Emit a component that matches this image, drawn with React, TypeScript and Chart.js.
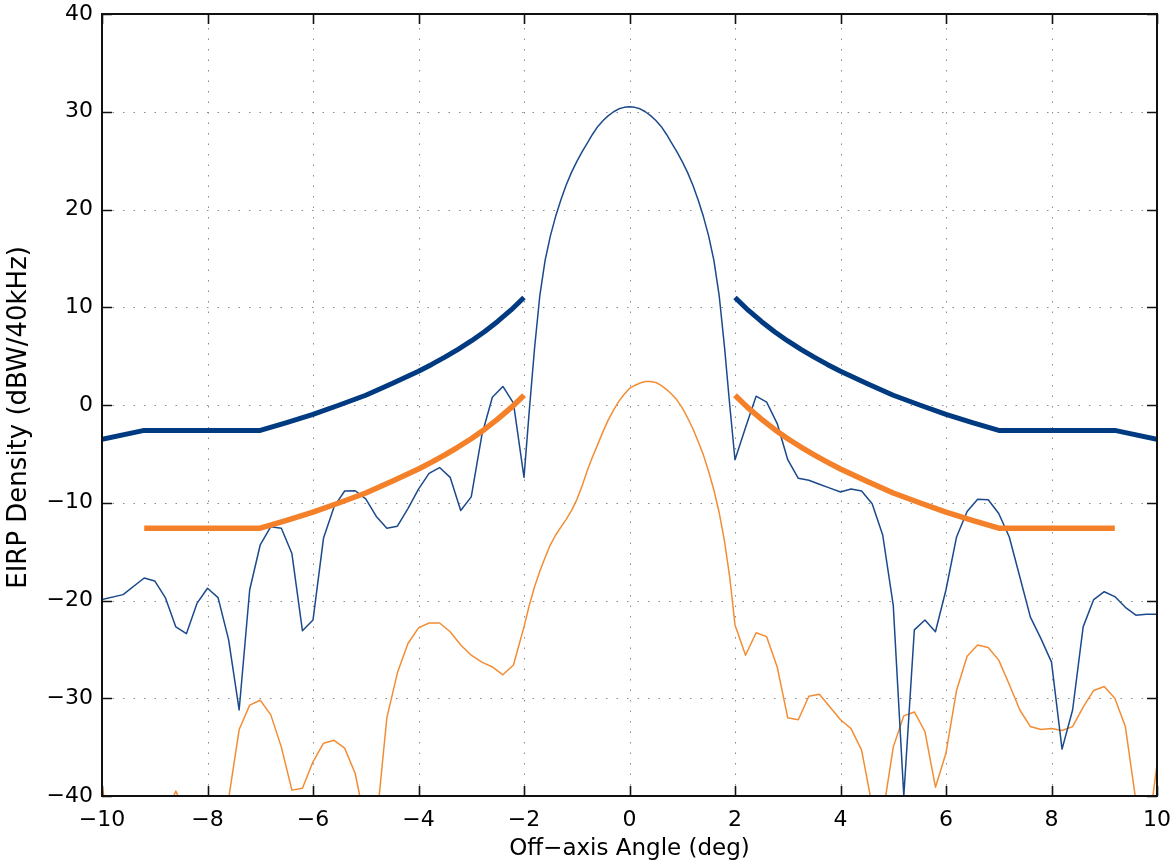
import { useEffect, useRef } from 'react';
import { Chart, registerables } from 'chart.js';

Chart.register(...registerables);

const FONT = '"DejaVu Sans", "Liberation Sans", sans-serif';

// Axis ticks
const xTickValues = [-10, -8, -6, -4, -2, 0, 2, 4, 6, 8, 10];
const yTickValues = [-40, -30, -20, -10, 0, 10, 20, 30, 40];

// Measured pattern (upper, dark blue thin line)
const upperPatternAngle = [
  -10, -9.6, -9.2, -9.0, -8.8, -8.6, -8.4, -8.2, -8.0, -7.8, -7.6, -7.4, -7.2, -7.0, -6.8, -6.6, -6.4, -6.2, -6.0,
  -5.8, -5.6, -5.4, -5.2, -5.0, -4.8, -4.6, -4.4, -4.2, -4.0, -3.8, -3.6, -3.4, -3.2, -3.0, -2.8, -2.6, -2.4, -2.2,
  -2.0, -1.9, -1.8, -1.7, -1.6, -1.5, -1.4, -1.3, -1.2, -1.1, -1.0, -0.9, -0.8, -0.7, -0.6, -0.5, -0.4, -0.3, -0.2,
  -0.1, 0.0, 0.1, 0.2, 0.3, 0.4, 0.5, 0.6, 0.7, 0.8, 0.9, 1.0, 1.1, 1.2, 1.3, 1.4, 1.5, 1.6, 1.7, 1.8, 1.9, 2.0,
  2.2, 2.4, 2.6, 2.8, 3.0, 3.2, 3.4, 3.6, 3.8, 4.0, 4.2, 4.4, 4.6, 4.8, 5.0,
  5.2, 5.4, 5.6, 5.8, 6.0, 6.2, 6.4, 6.6, 6.8, 7.0, 7.2, 7.4, 7.6, 7.8, 8.0, 8.2, 8.4, 8.6, 8.8, 9.0, 9.2, 9.4, 9.6,
  9.8, 10.0,
];
const upperPatternEirp = [
  -19.9, -19.4, -17.7, -18.0, -19.7, -22.7, -23.4, -20.3, -18.75, -19.7, -24.0, -31.2, -18.9, -14.3, -12.45, -12.6,
  -15.2, -23.1, -22.0, -13.6, -10.4, -8.8, -8.77, -9.6, -11.4, -12.6, -12.4, -10.6, -8.6, -7.0, -6.4, -7.4, -10.8,
  -9.4, -3.1, 0.8, 1.9, 0.2, -7.4, -0.6, 5.8, 11.2, 14.8, 17.3, 19.3, 21.0, 22.5, 23.8, 24.9, 25.9, 26.8, 27.7, 28.5,
  29.1, 29.6, 30.0, 30.3, 30.45, 30.5, 30.45, 30.3, 30.0, 29.6, 29.1, 28.5, 27.7, 26.8, 25.9, 24.9, 23.8, 22.5, 21.0,
  19.3, 17.3, 14.8, 11.2, 6.0, 0.0, -5.6,
  -2.3, 0.9, 0.3, -1.9, -5.6, -7.5, -7.7, -8.1, -8.5, -8.9, -8.6, -8.8, -10.1, -13.3, -20.5,
  -40.0, -23.0, -22.0, -23.2, -18.9, -13.5, -10.9, -9.65, -9.7,
  -11.1, -13.5, -17.6, -21.7, -23.9, -26.3, -35.2, -31.2, -22.7, -19.9, -19.1, -19.6, -20.7, -21.5, -21.4, -21.4,
];

// Measured pattern (lower, orange thin line)
const lowerPatternAngle = [
  -10, -9.9, -8.8, -8.6, -8.4, -7.8, -7.6, -7.4, -7.2, -7.0, -6.8, -6.6, -6.4, -6.2, -6.0, -5.8, -5.6, -5.4, -5.2,
  -5.0, -4.8, -4.6, -4.4, -4.2, -4.0, -3.8, -3.6, -3.4, -3.2, -3.0, -2.8, -2.6, -2.4, -2.2, -2.0, -1.9, -1.8, -1.7,
  -1.6, -1.5, -1.4, -1.3, -1.2, -1.1, -1.0, -0.9, -0.8, -0.7, -0.6, -0.5, -0.4, -0.3, -0.2, -0.1, 0.0, 0.1, 0.2, 0.3,
  0.4, 0.5, 0.6, 0.7, 0.8, 0.9, 1.0, 1.1, 1.2, 1.3, 1.4, 1.5, 1.6, 1.7, 1.8, 1.9, 2.0, 2.2, 2.4, 2.6, 2.8,
  3.0, 3.2, 3.4, 3.6, 3.8, 4.0, 4.2, 4.4, 4.6, 4.8, 5.0, 5.2, 5.4, 5.6, 5.8, 6.0, 6.2, 6.4, 6.6, 6.8, 7.0, 7.2, 7.4,
  7.6, 7.8, 8.0, 8.2, 8.4, 8.6, 8.8, 9.0, 9.2, 9.4, 9.6, 9.8, 10.0,
];
const lowerPatternEirp = [
  -39.0, -42.0, -42.0, -39.5, -42.0, -46.0, -40.3, -33.2, -30.7, -30.2, -31.7, -35.0, -39.4, -39.2, -36.5, -34.6,
  -34.3, -35.1, -37.7, -43.0, -43.0, -32.0, -27.4, -24.4, -22.8, -22.3, -22.3, -23.2, -24.55, -25.6, -26.3, -26.8,
  -27.6, -26.6, -22.7, -20.5, -18.6, -17.0, -15.6, -14.3, -13.3, -12.5, -11.7, -10.8, -9.7, -8.3, -6.7, -5.3, -4.0,
  -2.7, -1.5, -0.5, 0.4, 1.1, 1.7, 2.0, 2.25, 2.4, 2.4, 2.3, 2.0, 1.6, 1.1, 0.5, -0.3, -1.3, -2.4, -3.7, -5.1, -6.8,
  -8.7, -11.0, -13.9, -17.6, -22.5, -25.6, -23.3, -23.7, -26.8,
  -32.0, -32.2, -29.8, -29.6, -30.9, -32.2, -33.1,
  -35.3, -41.0, -42.0, -35.0, -31.8, -31.4, -33.4, -39.1, -35.6, -29.2, -25.7, -24.55, -24.8, -26.1, -28.6, -31.2,
  -32.9, -33.2, -33.1, -33.3, -32.9, -30.9, -29.2, -28.8, -30.0, -32.9, -40.5, -45.0, -36.8,
];

// Limit masks (thick lines)
const upperMaskAngleLeft = [-10, -9.2, -7, -6.5, -6, -5.5, -5, -4.5, -4, -3.75, -3.5, -3.25, -3, -2.75, -2.5, -2.25, -2];
const upperMaskLeft = [-3.5, -2.6, -2.6, -1.8, -0.95, 0.0, 1.0, 2.2, 3.45, 4.15, 4.9, 5.7, 6.55, 7.5, 8.55, 9.7, 11.0];
const upperMaskAngleRight = [2, 2.25, 2.5, 2.75, 3, 3.25, 3.5, 3.75, 4, 4.5, 5, 5.5, 6, 6.5, 7, 9.2, 10];
const upperMaskRight = [11.0, 9.7, 8.55, 7.5, 6.55, 5.7, 4.9, 4.15, 3.45, 2.2, 1.0, 0.0, -0.95, -1.8, -2.6, -2.6, -3.5];

const lowerMaskAngleLeft = [-9.2, -7, -6.5, -6, -5.5, -5, -4.5, -4, -3.75, -3.5, -3.25, -3, -2.75, -2.5, -2.25, -2];
const lowerMaskLeft = [-12.6, -12.6, -11.8, -10.95, -10.0, -9.0, -7.8, -6.55, -5.85, -5.1, -4.3, -3.45, -2.5, -1.45, -0.3, 1.0];
const lowerMaskAngleRight = [2, 2.25, 2.5, 2.75, 3, 3.25, 3.5, 3.75, 4, 4.5, 5, 5.5, 6, 6.5, 7, 9.2];
const lowerMaskRight = [1.0, -0.3, -1.45, -2.5, -3.45, -4.3, -5.1, -5.85, -6.55, -7.8, -9.0, -10.0, -10.95, -11.8, -12.6, -12.6];

const BLUE_THICK = '#003a80';
const BLUE_THIN = '#1b4a8c';
const ORANGE_THICK = '#f5802a';
const ORANGE_THIN = '#f28d35';

const pts = (xs: number[], ys: number[]) => xs.map((x, i) => ({ x, y: ys[i] }));
const fmt = (v: number | string) => String(v).replace('-', '\u2212');

const line = (data: { x: number; y: number }[], color: string, width: number) => ({
  data,
  showLine: true,
  borderColor: color,
  backgroundColor: color,
  borderWidth: width,
  pointRadius: 0,
  pointHoverRadius: 0,
  borderJoinStyle: 'round' as const,
  borderCapStyle: 'butt' as const,
  tension: 0,
  clip: 0,
});

const framePlugin = {
  id: 'frame',
  beforeDatasetsDraw(chart: any) {
    const { ctx, chartArea: a, scales } = chart;
    const x = scales.x;
    const y = scales.y;
    ctx.save();
    ctx.strokeStyle = '#8c8c8c';
    ctx.lineWidth = 1;
    ctx.setLineDash([1.5, 9]);
    for (const v of xTickValues) {
      const px = Math.round(x.getPixelForValue(v)) + 0.5;
      if (px < a.left + 2 || px > a.right - 2) continue;
      ctx.beginPath();
      ctx.moveTo(px, a.bottom);
      ctx.lineTo(px, a.top);
      ctx.stroke();
    }
    for (const v of yTickValues) {
      const py = Math.round(y.getPixelForValue(v)) + 0.5;
      if (py < a.top + 2 || py > a.bottom - 2) continue;
      ctx.beginPath();
      ctx.moveTo(a.left, py);
      ctx.lineTo(a.right, py);
      ctx.stroke();
    }
    ctx.restore();
  },
  afterDatasetsDraw(chart: any) {
    const { ctx, chartArea: a, scales } = chart;
    const x = scales.x;
    const y = scales.y;
    const tl = 10;
    ctx.save();
    ctx.strokeStyle = '#111';
    ctx.lineWidth = 1.6;
    ctx.setLineDash([]);
    ctx.beginPath();
    for (const v of xTickValues) {
      const px = Math.round(x.getPixelForValue(v)) + 0.5;
      ctx.moveTo(px, a.bottom);
      ctx.lineTo(px, a.bottom - tl);
      ctx.moveTo(px, a.top);
      ctx.lineTo(px, a.top + tl);
    }
    for (const v of yTickValues) {
      const py = Math.round(y.getPixelForValue(v)) + 0.5;
      ctx.moveTo(a.left, py);
      ctx.lineTo(a.left + tl, py);
      ctx.moveTo(a.right, py);
      ctx.lineTo(a.right - tl, py);
    }
    ctx.stroke();
    ctx.lineWidth = 2;
    ctx.strokeRect(a.left, a.top, a.right - a.left, a.bottom - a.top);
    ctx.restore();
  },
};

export default function App() {
  const ref = useRef<HTMLCanvasElement>(null);

  useEffect(() => {
    document.body.style.margin = '0';
    const chart = new Chart(ref.current as HTMLCanvasElement, {
      type: 'scatter',
      data: {
        datasets: [
          line(pts(upperMaskAngleLeft, upperMaskLeft), BLUE_THICK, 5),
          line(pts(upperMaskAngleRight, upperMaskRight), BLUE_THICK, 5),
          line(pts(lowerMaskAngleLeft, lowerMaskLeft), ORANGE_THICK, 5.5),
          line(pts(lowerMaskAngleRight, lowerMaskRight), ORANGE_THICK, 5.5),
          line(pts(upperPatternAngle, upperPatternEirp), BLUE_THIN, 1.5),
          line(pts(lowerPatternAngle, lowerPatternEirp), ORANGE_THIN, 1.5),
        ] as any,
      },
      options: {
        responsive: false,
        animation: false,
        devicePixelRatio: 1,
        layout: { padding: { top: 14, right: 17, left: 0, bottom: 0 } },
        plugins: { legend: { display: false }, tooltip: { enabled: false } },
        scales: {
          x: {
            type: 'linear',
            min: -10,
            max: 10,
            grid: { display: false, drawTicks: false },
            border: { display: false },
            afterBuildTicks: (s: any) => {
              s.ticks = xTickValues.map((value) => ({ value }));
            },
            afterFit: (s: any) => {
              s.height = 71;
              s.paddingLeft = 0;
              s.paddingRight = 0;
            },
            ticks: {
              padding: 11,
              color: '#000',
              maxRotation: 0,
              autoSkip: false,
              font: { family: FONT, size: 22 },
              callback: (v: any) => fmt(v),
            },
            title: {
              display: true,
              text: 'Off\u2212axis Angle (deg)',
              color: '#000',
              font: { family: FONT, size: 23 },
              padding: { top: 0, bottom: 4 },
            },
          },
          y: {
            type: 'linear',
            min: -40,
            max: 40,
            grid: { display: false, drawTicks: false },
            border: { display: false },
            afterBuildTicks: (s: any) => {
              s.ticks = yTickValues.map((value) => ({ value }));
            },
            afterFit: (s: any) => {
              s.width = 102;
              s.paddingTop = 0;
              s.paddingBottom = 0;
            },
            ticks: {
              padding: 9,
              color: '#000',
              autoSkip: false,
              font: { family: FONT, size: 22 },
              callback: (v: any) => fmt(v),
            },
            title: {
              display: true,
              text: 'EIRP Density (dBW/40kHz)   ',
              color: '#000',
              font: { family: FONT, size: 26 },
              padding: { top: 4, bottom: 0 },
            },
          },
        },
      },
      plugins: [framePlugin],
    });
    return () => chart.destroy();
  }, []);

  return (
    <div style={{ position: 'absolute', left: 0, top: 0, width: 1174, height: 867, background: '#fff' }}>
      <canvas ref={ref} width={1174} height={867} style={{ display: 'block' }} />
    </div>
  );
}
